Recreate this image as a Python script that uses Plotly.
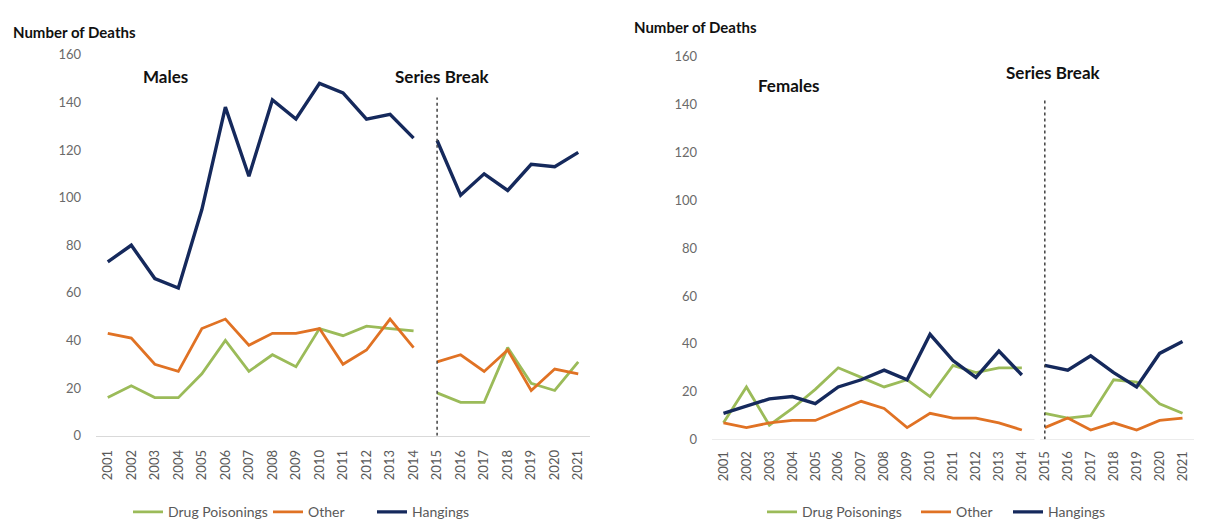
import plotly.graph_objects as go

# the page body keeps its default 8px margin, so the figure sits at (8, 8)
OFF = 8
FW, FH = 1200, 521

years = [2001, 2002, 2003, 2004, 2005, 2006, 2007, 2008, 2009, 2010, 2011,
         2012, 2013, 2014, 2015, 2016, 2017, 2018, 2019, 2020, 2021]

males_drug = [16, 21, 16, 16, 26, 40, 27, 34, 29, 45, 42, 46, 45, 44,
              18, 14, 14, 37, 22, 19, 31]
males_other = [43, 41, 30, 27, 45, 49, 38, 43, 43, 45, 30, 36, 49, 37,
               31, 34, 27, 36, 19, 28, 26]
males_hang = [73, 80, 66, 62, 95, 138, 109, 141, 133, 148, 144, 133, 135, 125,
              124, 101, 110, 103, 114, 113, 119]

females_drug = [7, 22, 6, 13, 21, 30, 26, 22, 25, 18, 31, 28, 30, 30,
                11, 9, 10, 25, 24, 15, 11]
females_other = [7, 5, 7, 8, 8, 12, 16, 13, 5, 11, 9, 9, 7, 4,
                 5, 9, 4, 7, 4, 8, 9]
females_hang = [11, 14, 17, 18, 15, 22, 25, 29, 25, 44, 33, 26, 37, 27,
                31, 29, 35, 28, 22, 36, 41]

series_names = ["Drug Poisonings", "Other", "Hangings"]
series_colors = ["#9bbb59", "#e07224", "#15295c"]
series_widths = [2.8, 2.8, 3.4]
break_year = 2015
y_ticks = [0, 20, 40, 60, 80, 100, 120, 140, 160]

GREY = "#595959"
FONT = "Lato, 'Open Sans', sans-serif"


def px(x):
    return (x - OFF) / FW


def py(y):
    return 1 - (y - OFF) / FH


fig = go.Figure()

# one legend per entry so each entry can sit where the original has it
left_legend_x = [128, 268, 372]
right_legend_x = [762, 916, 1008]
panels = [
    ("x", "y", 0, left_legend_x, [males_drug, males_other, males_hang]),
    ("x2", "y2", 3, right_legend_x, [females_drug, females_other, females_hang]),
]
cut = years.index(break_year)
legend_layout = {}
for xa, ya, base, leg_x, data in panels:
    for k, (name, color, width, vals) in enumerate(
            zip(series_names, series_colors, series_widths, data)):
        leg = "legend" if base + k == 0 else "legend%d" % (base + k + 1)
        legend_layout[leg] = dict(
            orientation="h", x=px(leg_x[k]), y=py(520), xanchor="left",
            yanchor="middle", bgcolor="rgba(0,0,0,0)", itemwidth=30,
            font=dict(size=14, color=GREY, family=FONT),
        )
        for i, (xs, ys) in enumerate([(years[:cut], vals[:cut]),
                                      (years[cut:], vals[cut:])]):
            fig.add_trace(go.Scatter(
                x=xs, y=ys, mode="lines", name=name,
                line=dict(color=color, width=width),
                xaxis=xa, yaxis=ya, legend=leg, legendgroup=leg,
                showlegend=(i == 0), hoverinfo="skip",
            ))

common_x = dict(
    range=[2000.5, 2021.5], tickmode="array", tickvals=years,
    ticktext=[str(y) for y in years], tickangle=-90,
    tickfont=dict(size=13, color=GREY, family=FONT),
    showgrid=False, zeroline=False, ticks="", ticklabelstandoff=8,
    fixedrange=True,
)
common_y = dict(
    range=[0, 160], tickvals=y_ticks, showgrid=False, zeroline=False,
    showline=False, ticks="", ticklabelstandoff=14,
    tickfont=dict(size=13, color="#6a6a6a", family=FONT), fixedrange=True,
)

fig.update_layout(
    width=FW, height=FH,
    margin=dict(l=0, r=0, t=0, b=0),
    paper_bgcolor="white", plot_bgcolor="white",
    font=dict(family=FONT, color=GREY),
    xaxis=dict(domain=[px(96), px(590)], anchor="y", showline=True,
               linecolor="#d9d9d9", linewidth=1.2, **common_x),
    yaxis=dict(domain=[py(441), py(48)], anchor="x", **common_y),
    xaxis2=dict(domain=[px(712), px(1194)], anchor="y2", showline=False,
                **common_x),
    yaxis2=dict(domain=[py(445), py(50)], anchor="x2", **common_y),
    **legend_layout,
)

# series break markers and the broken baseline on the right panel
fig.add_shape(type="line", xref="x", yref="y", x0=break_year, x1=break_year,
              y0=0, y1=142, line=dict(color="#404040", width=1.5, dash="dot"))
fig.add_shape(type="line", xref="x2", yref="y2", x0=break_year, x1=break_year,
              y0=0, y1=143, line=dict(color="#404040", width=1.5, dash="dot"))
fig.add_shape(type="line", xref="x2", yref="y2", x0=2000.5, x1=2014.55,
              y0=0, y1=0, line=dict(color="#d9d9d9", width=1.2))
fig.add_shape(type="line", xref="x2", yref="y2", x0=2014.8, x1=2021.5,
              y0=0, y1=0, line=dict(color="#d9d9d9", width=1.2))

labels = [
    ("Number of Deaths", 11, 24, 15),
    ("Males", 141, 70, 17),
    ("Series Break", 393, 70, 17),
    ("Number of Deaths", 632, 19, 15),
    ("Females", 756, 80, 17),
    ("Series Break", 1004, 66, 17),
]
for text, x, y, size in labels:
    fig.add_annotation(text="<b>%s</b>" % text, xref="paper", yref="paper",
                       x=px(x), y=py(y), xanchor="left", yanchor="middle",
                       showarrow=False,
                       font=dict(size=size, color="#111111", family=FONT))

fig.write_html("out.html")
